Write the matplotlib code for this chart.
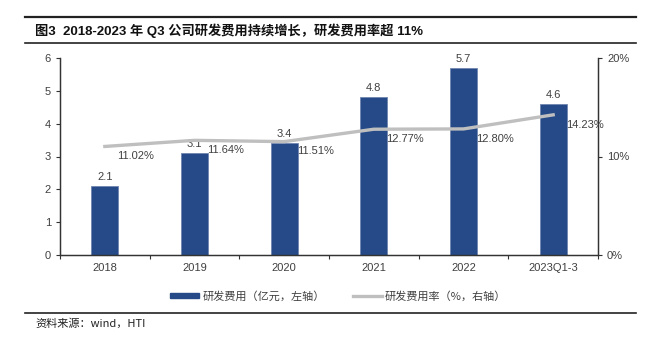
import matplotlib

matplotlib.use("Agg")
import matplotlib.pyplot as plt
from matplotlib.lines import Line2D
from matplotlib.patches import Patch
from matplotlib.ticker import FixedLocator, PercentFormatter

plt.rcParams["font.family"] = ["Liberation Sans", "Noto Sans CJK SC"]

# R&D expense (100m yuan) and R&D expense ratio (%)
years = ["2018", "2019", "2020", "2021", "2022", "2023Q1-3"]
rd_expense = [2.1, 3.1, 3.4, 4.8, 5.7, 4.6]
rd_ratio = [11.02, 11.64, 11.51, 12.77, 12.80, 14.23]

title = "图3  2018-2023 年 Q3 公司研发费用持续增长，研发费用率超 11%"
source = "资料来源：wind，HTI"
bar_label = "研发费用（亿元，左轴）"
line_label = "研发费用率（%，右轴）"

BAR_COLOR = "#254A87"
LINE_COLOR = "#BFBFBF"
TEXT_COLOR = "#404040"

fig = plt.figure(figsize=(6.57, 3.40), dpi=100)
ax = fig.add_axes([60 / 657, 1 - 255 / 340, 538 / 657, 197 / 340])
ax2 = ax.twinx()

x = list(range(len(years)))
ax.bar(x, rd_expense, width=0.30, color=BAR_COLOR,
       edgecolor="#6F86B0", linewidth=0.6, zorder=2)
for xi, v in zip(x, rd_expense):
    ax.annotate(f"{v:.1f}", (xi, v), xytext=(0, 3), textcoords="offset points",
                ha="center", va="bottom", fontsize=8, color=TEXT_COLOR)

ax2.plot(x, rd_ratio, color=LINE_COLOR, linewidth=2.4, zorder=3)
for xi, v in zip(x, rd_ratio):
    ax2.annotate(f"{v:.2f}%", (xi, v), xytext=(9, -7), textcoords="offset points",
                 ha="left", va="center", fontsize=8, color=TEXT_COLOR)

ax.set_xlim(-0.5, len(years) - 0.5)
ax.set_ylim(0, 6)
ax2.set_ylim(0, 20)
ax.set_yticks(range(0, 7))
ax2.set_yticks([0, 10, 20])
ax2.yaxis.set_major_formatter(PercentFormatter(decimals=0))

# category labels centred, tick marks on the category boundaries
ax.set_xticks(x)
ax.set_xticklabels(years)
ax.xaxis.set_minor_locator(FixedLocator([i - 0.5 for i in range(len(years) + 1)]))
ax.tick_params(axis="x", which="major", length=0, pad=6)
ax.tick_params(axis="x", which="minor", length=3, width=0.8, color="#333333")
ax.tick_params(axis="y", length=3, width=0.8, color="#333333")
ax2.tick_params(axis="y", length=3, width=0.8, color="#333333")
for a in (ax, ax2):
    a.tick_params(labelsize=8, labelcolor=TEXT_COLOR)
    a.spines["top"].set_visible(False)
    for s in ("left", "right", "bottom"):
        a.spines[s].set_linewidth(0.9)
        a.spines[s].set_color("#333333")
ax.set_zorder(ax2.get_zorder() - 1)
ax.patch.set_visible(False)
ax2.patch.set_visible(False)

handles = [Patch(facecolor=BAR_COLOR, edgecolor=BAR_COLOR),
           Line2D([], [], color=LINE_COLOR, linewidth=2.4)]
fig.legend(handles, [bar_label, line_label], loc="center",
           bbox_to_anchor=(0.515, 1 - 296 / 340), ncol=2, frameon=False,
           handlelength=2.6, handleheight=0.35, columnspacing=2.5,
           handletextpad=0.3,
           prop={"family": ["Noto Sans CJK SC"], "size": 8})
for text in fig.legends[0].get_texts():
    text.set_color(TEXT_COLOR)

# header and footer rules
fig.add_artist(Line2D([25 / 657, 636 / 657], [1 - 16.7 / 340] * 2,
                      color="#222222", linewidth=1.6))
fig.add_artist(Line2D([25 / 657, 636 / 657], [1 - 42.7 / 340] * 2,
                      color="#222222", linewidth=1.2))
fig.add_artist(Line2D([25 / 657, 636 / 657], [1 - 313 / 340] * 2,
                      color="#222222", linewidth=1.2))
fig.text(35 / 657, 1 - 31 / 340, title, ha="left", va="center",
         fontsize=9.5, fontweight="bold", color="#111111")
fig.text(35 / 657, 1 - 323.5 / 340, source, ha="left", va="center",
         fontsize=8, color="#222222",
         family=["Noto Sans CJK SC", "Liberation Sans"])

fig.savefig("out.png", dpi=100)
